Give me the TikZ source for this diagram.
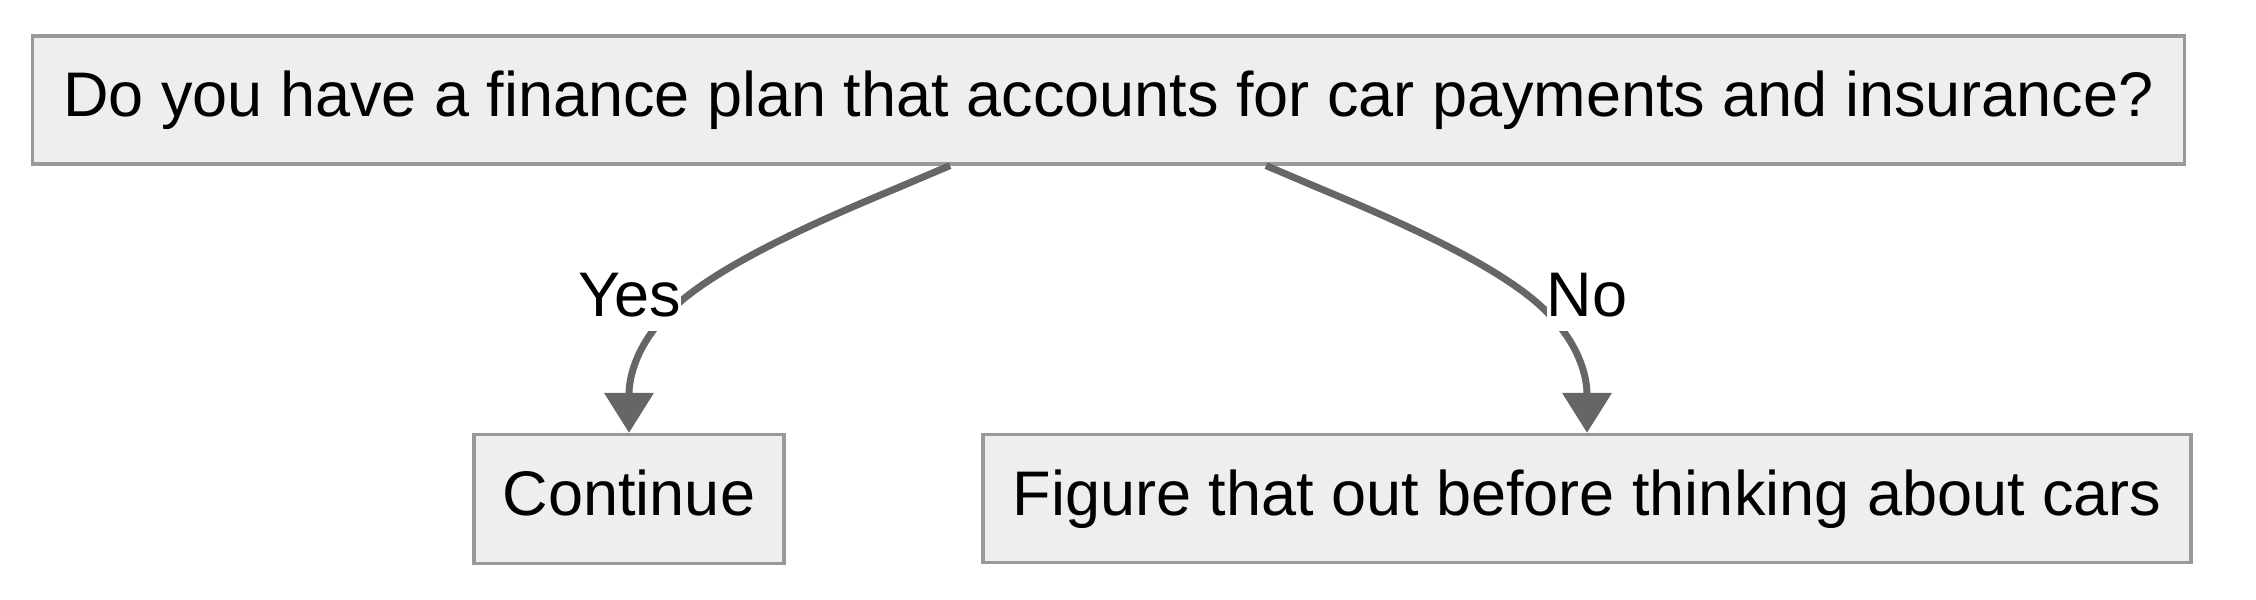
\documentclass[tikz,border=0pt]{standalone}
\usepackage{fontspec}
\setmainfont{Liberation Sans}
\usetikzlibrary{arrows.meta}
\definecolor{boxfill}{HTML}{EEEEEE}
\definecolor{boxline}{HTML}{999999}
\definecolor{edgecol}{HTML}{666666}
\tikzset{
  box/.style={draw=boxline, fill=boxfill, line width=1.6pt, inner sep=0pt,
    text height=22pt, text depth=5.5pt, font=\fontsize{31.5pt}{38pt}\selectfont},
  edge/.style={draw=edgecol, line width=3.5pt,
    -{Triangle[width=24pt,length=20pt]}},
  lbl/.style={fill=white, inner sep=0pt, text height=29pt, text depth=7.5pt,
    font=\fontsize{31.5pt}{38pt}\selectfont},
}
\begin{document}
\begin{tikzpicture}[x=0.5pt,y=-0.5pt]
\useasboundingbox (0,0) rectangle (2256,600);
\node[box, minimum width=1076pt, minimum height=64pt] (q) at (1108.5,100)
  {Do you have a finance plan that accounts for car payments and insurance?};
\node[box, minimum width=155pt, minimum height=64.5pt] (c) at (629,499) {Continue};
\node[box, minimum width=604pt, minimum height=64pt] (f) at (1587,498.5)
  {Figure that out before thinking about cars};
\draw[edge] ([xshift=-79.25pt]q.south) -- (896.5,188.3)
  .. controls (843,210.7) and (736,255.3) .. (682.5,299.8)
  .. controls (629,344.3) and (629,388.7) .. (c.north);
\draw[edge] ([xshift=78.75pt]q.south) -- (1319.5,188.3)
  .. controls (1373,210.7) and (1480,255.3) .. (1533.5,299.8)
  .. controls (1587,344.3) and (1587,388.7) .. (f.north);
\node[lbl, anchor=base] (yes) at (630,316) {Yes};
\node[lbl, anchor=base] (no) at (1587,316) {No};
\end{tikzpicture}
\end{document}
